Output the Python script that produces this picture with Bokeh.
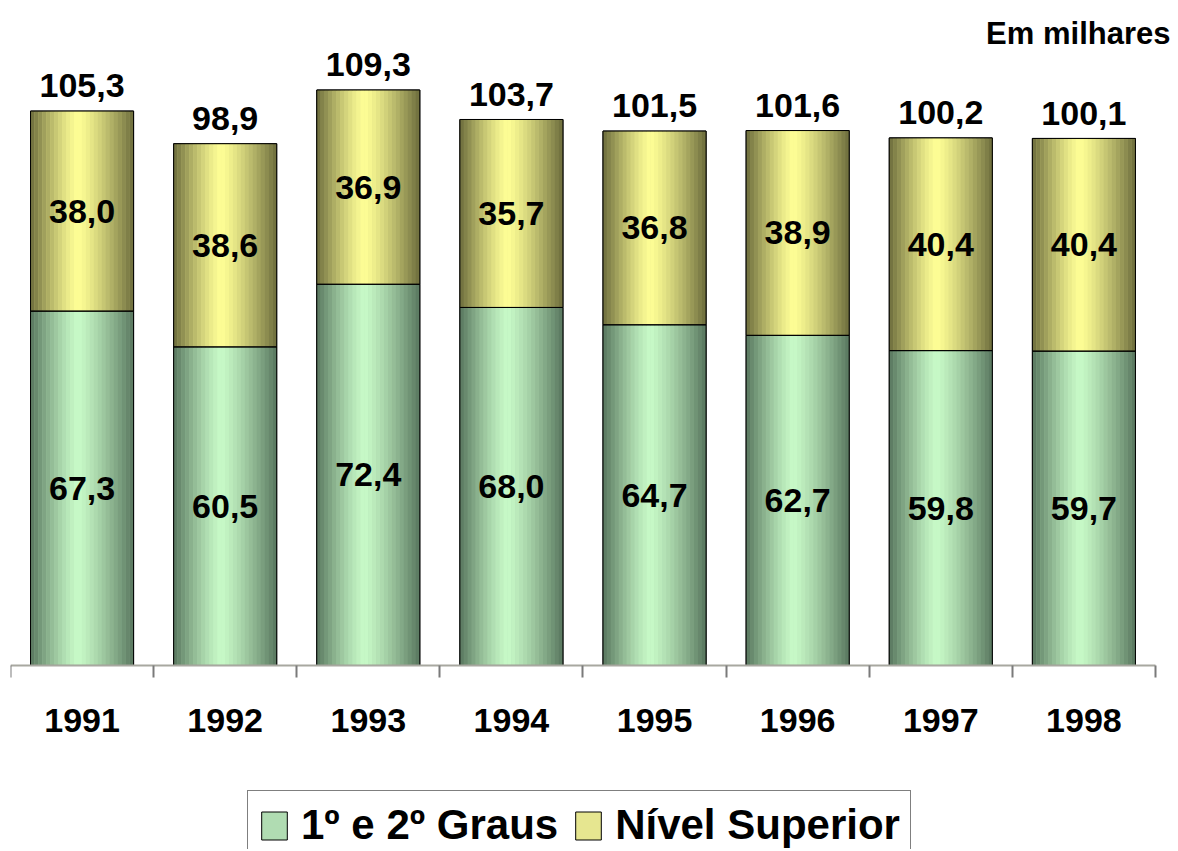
from bokeh.plotting import figure
from bokeh.models import ColumnDataSource, Range1d, FixedTicker, Label, Legend, LegendItem
from bokeh.core.properties import value
from bokeh.embed import file_html
from bokeh.resources import INLINE

# ---- data ----
years = ["1991", "1992", "1993", "1994", "1995", "1996", "1997", "1998"]
fund_medio = [67.3, 60.5, 72.4, 68.0, 64.7, 62.7, 59.8, 59.7]      # 1º e 2º Graus
superior = [38.0, 38.6, 36.9, 35.7, 36.8, 38.9, 40.4, 40.4]        # Nível Superior
totals = [105.3, 98.9, 109.3, 103.7, 101.5, 101.6, 100.2, 100.1]
series_names = ["1º e 2º Graus", "Nível Superior"]
unit_note = "Em milhares"

FONT = "Liberation Sans"
BAR_W = 0.72
N_STRIPS = 26

def fmt(v):
    return f"{v:.1f}".replace(".", ",")

def shade(t, dark, light, peak=0.46):
    d = abs(t - peak) / (peak if t < peak else 1 - peak)
    f = max(0.0, 1 - d ** 1.25)
    r, g, b = (int(round(dark[j] + (light[j] - dark[j]) * f)) for j in range(3))
    return f"#{r:02x}{g:02x}{b:02x}"

GREEN_DARK, GREEN_LIGHT = (88, 118, 94), (200, 250, 200)
YEL_DARK, YEL_LIGHT = (108, 108, 60), (255, 255, 150)

n = len(years)
centers = [i + 0.5 for i in range(n)]
bounds = [float(i) for i in range(n + 1)]
tops_g = fund_medio
tops_y = [a + b for a, b in zip(fund_medio, superior)]

p = figure(width=1176, height=849, output_backend="svg", toolbar_location=None,
           x_range=Range1d(0, 8.147), y_range=Range1d(-34.95, 126.3),
           y_axis_location=None, min_border_left=10, min_border_right=0,
           min_border_top=0, min_border_bottom=0)
p.outline_line_color = None
p.xgrid.visible = False
p.ygrid.visible = False
p.background_fill_color = "white"
p.border_fill_color = "white"

# base bars (also used for legend swatches)
base_src = ColumnDataSource(dict(x=centers, g=tops_g, y=tops_y))
base_g = p.vbar(x="x", width=BAR_W, bottom=0, top="g", source=base_src,
                fill_color="#b0dcb2", line_color="black", line_width=1)
base_y = p.vbar(x="x", width=BAR_W, bottom="g", top="y", source=base_src,
                fill_color="#e6e690", line_color="black", line_width=1)

# gradient strips
step = BAR_W / N_STRIPS
for bottoms, tps, dark, light in [([0] * n, tops_g, GREEN_DARK, GREEN_LIGHT),
                                   (tops_g, tops_y, YEL_DARK, YEL_LIGHT)]:
    xs, bs, ts, cs = [], [], [], []
    for i in range(n):
        for k in range(N_STRIPS):
            t = (k + 0.5) / N_STRIPS
            xs.append(centers[i] - BAR_W / 2 + (k + 0.5) * step)
            bs.append(bottoms[i])
            ts.append(tps[i])
            cs.append(shade(t, dark, light))
    src = ColumnDataSource(dict(x=xs, b=bs, t=ts, c=cs))
    p.vbar(x="x", width=step * 1.08, bottom="b", top="t", fill_color="c",
           line_color=None, source=src)

# outlines
p.vbar(x="x", width=BAR_W, bottom=0, top="g", source=base_src,
       fill_color=None, line_color="black", line_width=1)
p.vbar(x="x", width=BAR_W, bottom="g", top="y", source=base_src,
       fill_color=None, line_color="black", line_width=1)

# value labels
lab_src = ColumnDataSource(dict(
    x=centers,
    gmid=[g / 2 for g in tops_g],
    ymid=[(g + y) / 2 for g, y in zip(tops_g, tops_y)],
    tpos=[y + 4.8 for y in tops_y],
    gtxt=[fmt(v) for v in fund_medio],
    ytxt=[fmt(v) for v in superior],
    ttxt=[fmt(v) for v in totals],
))
for ycol, tcol in [("gmid", "gtxt"), ("ymid", "ytxt"), ("tpos", "ttxt")]:
    p.text(x="x", y=ycol, text=tcol, source=lab_src, text_align="center",
           text_baseline="middle", text_font=value(FONT), text_font_style="bold",
           text_font_size="34px", text_color="black")

# unit note
p.add_layout(Label(x=8.105, y=120.0, text=unit_note, text_align="right",
                   text_baseline="middle", text_font=FONT, text_font_style="bold",
                   text_font_size="31px", text_color="black"))

# x axis, fixed at y = 0 inside the frame
ax = p.xaxis[0]
ax.fixed_location = 0
ax.bounds = (0, n)
ax.ticker = FixedTicker(ticks=centers, minor_ticks=bounds)
ax.major_label_overrides = {c: y for c, y in zip(centers, years)}
ax.major_tick_line_color = None
ax.major_tick_out = 0
ax.major_tick_in = 0
ax.minor_tick_out = 12
ax.minor_tick_in = 0
ax.minor_tick_line_color = "#7a7a7a"
ax.minor_tick_line_width = 2
ax.axis_line_color = "#a8a8a0"
ax.axis_line_width = 2
ax.major_label_standoff = 32
ax.major_label_text_font = FONT
ax.major_label_text_font_style = "bold"
ax.major_label_text_font_size = "34px"
ax.major_label_text_color = "black"

# legend
legend = Legend(items=[LegendItem(label=series_names[0], renderers=[base_g]),
                       LegendItem(label=series_names[1], renderers=[base_y])],
                orientation="horizontal", location=(237, -11),
                label_text_font=FONT, label_text_font_style="bold",
                label_text_font_size="42px", label_text_color="black",
                glyph_width=32, glyph_height=35, label_standoff=11, spacing=14,
                padding=10, border_line_color="black", border_line_width=1,
                background_fill_color="white", background_fill_alpha=1.0, margin=0)
p.add_layout(legend, "center")

open("out.html", "w").write(file_html(p, INLINE))
